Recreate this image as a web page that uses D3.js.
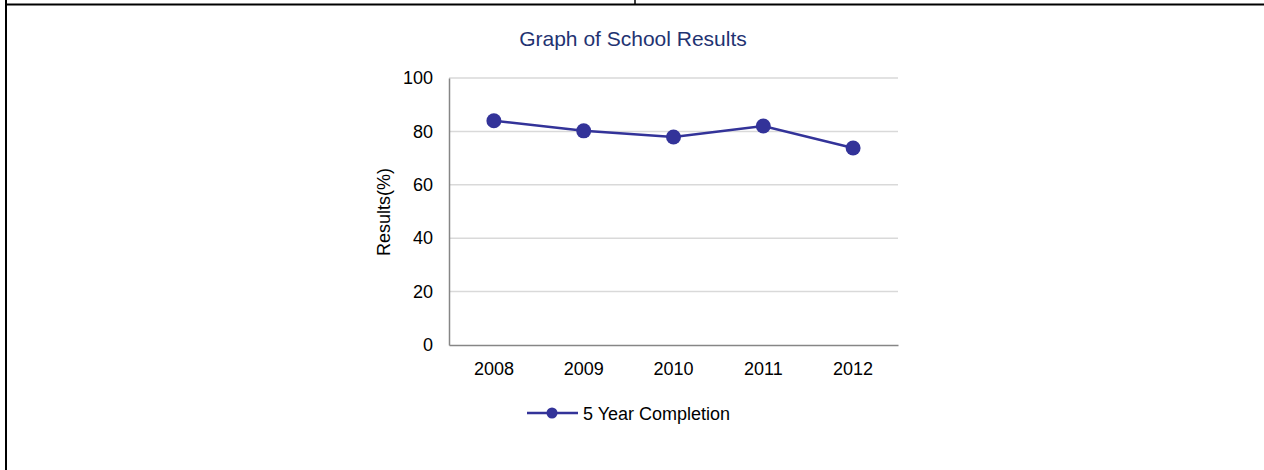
<!DOCTYPE html>
<html>
<head>
<meta charset="utf-8">
<script src="https://cdn.jsdelivr.net/npm/d3@7"></script>
<style>
  html, body { margin: 0; padding: 0; background: #fff; }
  svg { display: block; font-family: "Liberation Sans", Arial, sans-serif; }
</style>
</head>
<body>
<svg id="chart" width="1264" height="470"></svg>
<script>
// chart data
const years = ["2008", "2009", "2010", "2011", "2012"];
const completion = [84.0, 80.2, 77.9, 82.0, 73.8];
const yTicks = [0, 20, 40, 60, 80, 100];
const seriesName = "5 Year Completion";

const lineColor = "#333399";
const svg = d3.select("#chart");

// table frame round the chart
svg.append("line").attr("x1", 6).attr("x2", 1264).attr("y1", 4.5).attr("y2", 4.5)
    .attr("stroke", "#000").attr("stroke-width", 2);
svg.append("line").attr("x1", 6).attr("x2", 6).attr("y1", 0).attr("y2", 470)
    .attr("stroke", "#000").attr("stroke-width", 2);
svg.append("line").attr("x1", 635).attr("x2", 635).attr("y1", 0).attr("y2", 5)
    .attr("stroke", "#000").attr("stroke-width", 1.5);

const plot = { left: 449, right: 898, top: 78, bottom: 345 };

const x = d3.scaleBand().domain(years).range([plot.left, plot.right]);
const y = d3.scaleLinear().domain([0, 100]).range([plot.bottom, plot.top]);

// title
svg.append("text")
    .attr("x", 633).attr("y", 46)
    .attr("text-anchor", "middle")
    .attr("fill", "#1f3372")
    .style("font-size", "21px")
    .text("Graph of School Results");

// gridlines
svg.append("g")
    .selectAll("line")
    .data(yTicks.filter(d => d > 0))
    .join("line")
    .attr("x1", plot.left).attr("x2", plot.right)
    .attr("y1", d => y(d)).attr("y2", d => y(d))
    .attr("stroke", "#d9d9d9").attr("stroke-width", 1.5);

// y axis
const yAxis = svg.append("g")
    .attr("transform", `translate(${plot.left},0)`)
    .call(d3.axisLeft(y).tickValues(yTicks).tickSize(0).tickPadding(16));
yAxis.select(".domain").attr("stroke", "#868686").attr("stroke-width", 1.5);
yAxis.selectAll("text").style("font-size", "18px").attr("fill", "#000")
    .attr("font-family", "Liberation Sans, Arial, sans-serif");

// x axis
const xAxis = svg.append("g")
    .attr("transform", `translate(0,${plot.bottom})`)
    .call(d3.axisBottom(x).tickSize(0).tickPadding(17));
xAxis.select(".domain").attr("stroke", "#868686").attr("stroke-width", 1.5);
xAxis.selectAll("text").style("font-size", "18px").attr("fill", "#000")
    .attr("font-family", "Liberation Sans, Arial, sans-serif");

// y axis label
svg.append("text")
    .attr("transform", "translate(390,212) rotate(-90)")
    .attr("text-anchor", "middle")
    .style("font-size", "18px")
    .text("Results(%)");

// series line and markers
const pts = years.map((yr, i) => ({ yr: yr, v: completion[i] }));
const line = d3.line()
    .x(d => x(d.yr) + x.bandwidth() / 2)
    .y(d => y(d.v));

svg.append("path")
    .datum(pts)
    .attr("d", line)
    .attr("fill", "none")
    .attr("stroke", lineColor)
    .attr("stroke-width", 2.5);

svg.append("g")
    .selectAll("circle")
    .data(pts)
    .join("circle")
    .attr("cx", d => x(d.yr) + x.bandwidth() / 2)
    .attr("cy", d => y(d.v))
    .attr("r", 7.5)
    .attr("fill", lineColor);

// legend
const legend = svg.append("g").attr("transform", "translate(527,413)");
legend.append("line").attr("x1", 0).attr("x2", 51).attr("y1", 0).attr("y2", 0)
    .attr("stroke", lineColor).attr("stroke-width", 2.5);
legend.append("circle").attr("cx", 25).attr("cy", 0).attr("r", 5.5).attr("fill", lineColor);
legend.append("text")
    .attr("x", 56).attr("y", 6.5)
    .style("font-size", "18px")
    .text(seriesName);
</script>
</body>
</html>
